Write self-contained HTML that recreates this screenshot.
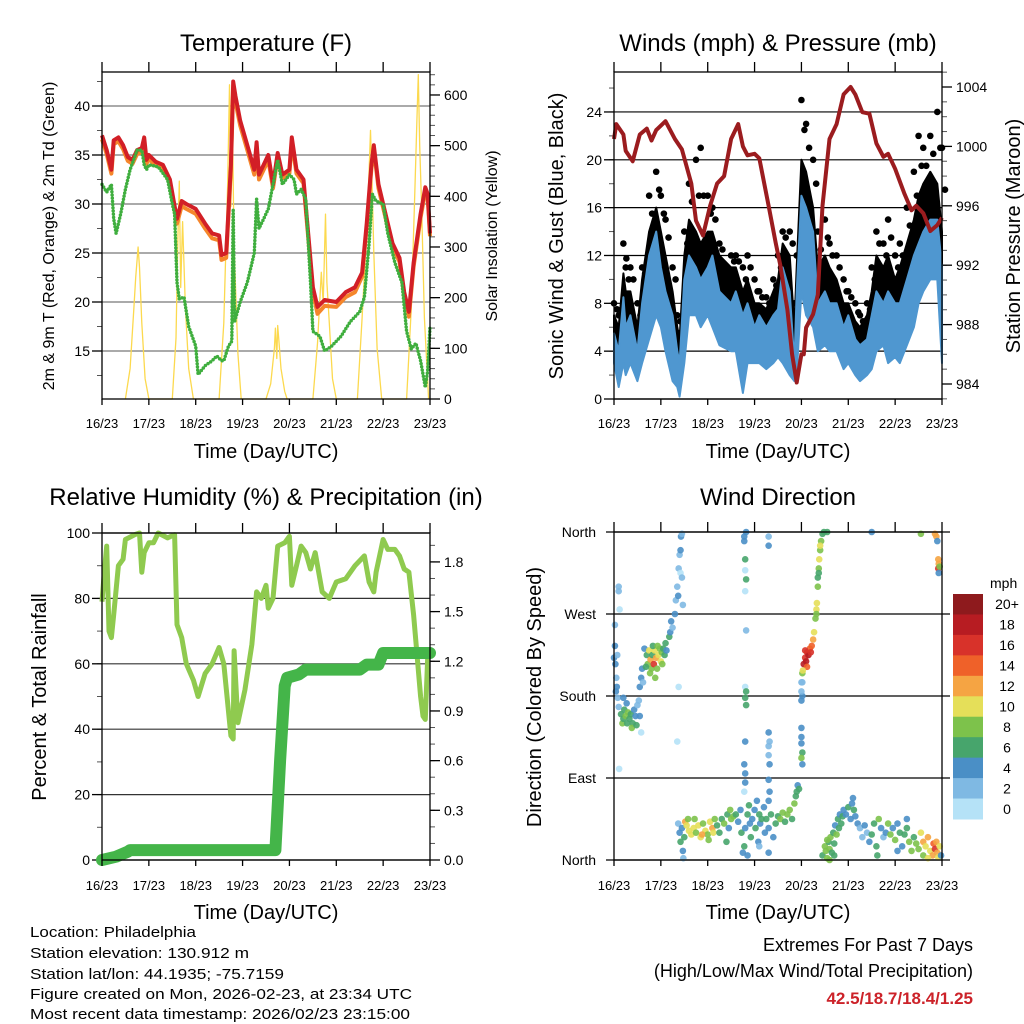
<!DOCTYPE html>
<html><head><meta charset="utf-8">
<style>
html,body{margin:0;padding:0;background:#fff;}
svg{display:block;font-family:"Liberation Sans",Arial,sans-serif;}
</style></head>
<body>
<svg id="fig" width="1024" height="1024" viewBox="0 0 1024 1024" xmlns="http://www.w3.org/2000/svg">
<rect width="1024" height="1024" fill="#fff"/>
<text x="266" y="51" font-size="24" text-anchor="middle">Temperature (F)</text>
<text x="778" y="51" font-size="24" text-anchor="middle">Winds (mph) &amp; Pressure (mb)</text>
<text x="266" y="505" font-size="24" text-anchor="middle">Relative Humidity (%) &amp; Precipitation (in)</text>
<text x="778" y="505" font-size="24" text-anchor="middle">Wind Direction</text>

<text x="266" y="458" font-size="20" text-anchor="middle">Time (Day/UTC)</text>
<text x="778" y="458" font-size="20" text-anchor="middle">Time (Day/UTC)</text>
<text x="266" y="919" font-size="20" text-anchor="middle">Time (Day/UTC)</text>
<text x="778" y="919" font-size="20" text-anchor="middle">Time (Day/UTC)</text>

<text transform="translate(54,236) rotate(-90)" font-size="16" text-anchor="middle">2m &amp; 9m T (Red, Orange) &amp; 2m Td (Green)</text>
<text transform="translate(497,236) rotate(-90)" font-size="16" text-anchor="middle">Solar Insolation (Yellow)</text>
<text transform="translate(563,236) rotate(-90)" font-size="20" text-anchor="middle">Sonic Wind &amp; Gust (Blue, Black)</text>
<text transform="translate(1020,236) rotate(-90)" font-size="20" text-anchor="middle">Station Pressure (Maroon)</text>
<text transform="translate(46,697) rotate(-90)" font-size="20" text-anchor="middle">Percent &amp; Total Rainfall</text>
<text transform="translate(541,697) rotate(-90)" font-size="20" text-anchor="middle">Direction (Colored By Speed)</text>

<g font-size="15">
<text x="30" y="937" textLength="166" lengthAdjust="spacingAndGlyphs">Location: Philadelphia</text>
<text x="30" y="958" textLength="219" lengthAdjust="spacingAndGlyphs">Station elevation: 130.912 m</text>
<text x="30" y="979" textLength="254" lengthAdjust="spacingAndGlyphs">Station lat/lon: 44.1935; -75.7159</text>
<text x="30" y="999" textLength="382" lengthAdjust="spacingAndGlyphs">Figure created on Mon, 2026-02-23, at 23:34 UTC</text>
<text x="30" y="1019" textLength="380" lengthAdjust="spacingAndGlyphs">Most recent data timestamp: 2026/02/23 23:15:00</text>
</g>
<text x="973" y="951" font-size="18" text-anchor="end">Extremes For Past 7 Days</text>
<text x="973" y="977" font-size="18" text-anchor="end">(High/Low/Max Wind/Total Precipitation)</text>
<text x="973" y="1004" font-size="17" font-weight="bold" fill="#cc2229" text-anchor="end">42.5/18.7/18.4/1.25</text>
<g id="plots"></g>
</svg>
<script>
// ---- shared axis categories ----
const dayLabels = ["16/23","17/23","18/23","19/23","20/23","21/23","22/23","23/23"];
// ---- temperature ----
const tempT = [0,0.1,0.2,0.25,0.35,0.45,0.55,0.65,0.75,0.85,0.9,0.95,1.0,1.15,1.3,1.45,1.55,1.6,1.7,1.8,2.0,2.2,2.35,2.5,2.55,2.65,2.75,2.8,2.85,2.95,3.1,3.25,3.3,3.35,3.45,3.55,3.65,3.75,3.85,4.0,4.05,4.15,4.3,4.4,4.5,4.6,4.75,5.0,5.2,5.4,5.55,5.65,5.75,5.8,5.9,6.05,6.2,6.35,6.45,6.55,6.65,6.8,6.9,6.95,7.0];
const temp2m = [37,35.5,33.5,36.5,36.8,36,34.8,34.5,35.5,35.7,36.8,34.5,35,34.3,34,32.5,29.8,28.5,30.3,30,29.5,28,27,26.8,24.8,25,34,42.5,41,38.5,36,33.5,36.3,33,34,35,32,35.2,33,33.5,36.8,33.5,32.5,27,21.5,19.5,20.2,20,21,21.5,23,28,34,36,32,29,26,24.5,21,19,24,29,31.7,31,27];
const temp9m = [36.6,35.1,33.1,36.1,36.4,35.6,34.4,34.1,35.1,35.3,36.4,34.1,34.6,33.9,33.6,32.1,29.3,28,29.8,29.5,29,27.5,26.5,26.3,24.3,24.5,33.5,41.8,40.4,38,35.5,33,35.8,32.5,33.5,34.5,31.6,34.8,32.6,33.1,36.3,33.1,32.1,26.6,21,18.8,19.6,19.5,20.5,21,22.6,27.6,33.6,35.6,31.6,28.6,25.6,24.1,20.6,18.5,23.6,28.6,31.3,30.6,26.7];
const dewT = [0,0.1,0.2,0.25,0.3,0.4,0.5,0.6,0.75,0.85,0.9,0.95,1.0,1.2,1.4,1.5,1.55,1.6,1.65,1.75,1.85,2.0,2.05,2.2,2.35,2.45,2.55,2.6,2.7,2.77,2.8,2.83,2.95,3.1,3.25,3.3,3.35,3.45,3.55,3.65,3.75,3.85,4.0,4.1,4.15,4.25,4.35,4.45,4.5,4.65,4.75,4.9,5.1,5.3,5.5,5.6,5.7,5.77,5.85,6.0,6.1,6.25,6.4,6.5,6.6,6.7,6.8,6.9,6.95,7.0];
const dewVal = [32,31.2,32,28.5,27,29,31.5,33.5,35.5,35.5,34,33.5,34,33.8,32.5,30,29,22,20.3,20.5,17.5,15.5,12.6,13.5,14,14.5,14,14,15.5,16,29.5,18,20,22,25,30.5,27.5,28.5,29.5,32,34.5,32,33,32.5,31,31.5,30.5,22,17,16.5,15,15.5,16.5,18,19,20.5,26,31,30.3,30,27,24,22,17,15.2,15.8,14,11.3,13,17.5];
const solarT = [0.5,0.6,0.68,0.72,0.77,0.8,0.85,0.92,1.0, 1.5,1.58,1.62,1.65,1.68,1.72,1.78,1.85,1.95, 2.5,2.6,2.68,2.72,2.75,2.78,2.82,2.9,2.97, 3.5,3.6,3.68,3.7,3.73,3.75,3.78,3.82,3.9,3.95, 4.5,4.6,4.68,4.72,4.77,4.8,4.85,4.92,5.0, 5.45,5.55,5.63,5.7,5.73,5.77,5.8,5.87,5.97, 6.5,6.6,6.68,6.72,6.75,6.78,6.82,6.88,6.97];
const solarVal = [0,60,180,240,300,260,150,40,0, 0,120,320,430,220,350,180,60,0, 0,150,420,620,380,560,300,90,0, 0,30,100,140,80,145,110,60,15,0, 0,110,250,190,365,230,150,40,0, 0,160,300,450,530,400,290,100,0, 0,180,420,550,640,500,380,160,0];
// ---- wind & pressure ----
const windT = [0,0.1,0.2,0.25,0.35,0.5,0.6,0.75,0.9,1.0,1.1,1.25,1.35,1.4,1.5,1.6,1.75,1.85,2.0,2.1,2.25,2.5,2.6,2.75,2.85,3.0,3.1,3.25,3.4,3.5,3.6,3.75,3.85,3.9,4.0,4.1,4.25,4.35,4.5,4.6,4.75,4.9,5.0,5.15,5.25,5.4,5.5,5.6,5.75,5.85,6.0,6.1,6.25,6.4,6.5,6.6,6.75,6.9,7.0];
const windHi = [5.5,4,8.5,6,7,4,8,12,14,11,9,7,4,3,10,12,11,10,11,12,9,8,9,7,8,6,7,6,7,7.5,11,9,3,9,17,16,14,8,9,8,8,6,7,5,4.5,5,7,9,8,9,8,8,10,12,13,14,15,15,11];
const windLo = [3,1,3,2,3,1.5,3,5,7,6,4,1.5,1,0.2,3,7,7,6,7,6,4.5,4,4,0.5,3,3,3,2.5,3,3.5,3,2,1.5,2,9,7,6,4,4.5,4,4,2.5,3,2,1.5,2,2.5,4,4.5,3,3.5,3,4.5,6,8,9,10,10,3];
const gustMid = [7,6,10.5,9,9,6,10,14,16,14,12,9,6,5,12,15,14,13,14,14,12,11,11,9,10,8,8,7.5,9,10,13,12,6,11,20,19,16,11,12,11,10,8,8,6.5,6,7,9,12,11,12,10,11,13,15,17,18,19,18,14];
const gustHi = [8,7,13,11,11,8,11,17,19,17,15,11,7,5.5,14,18,20,21,17,16,13,12,12,11,12,10,9,8.5,10,12,14,14,8,12,25,23,20,14,15,13,12,10,9,8,7,8,11,14,13,15,12,13,16,19,22,21,22,24,21];
const presT = [0,0.05,0.2,0.25,0.4,0.55,0.7,0.8,0.9,1.1,1.3,1.45,1.65,1.75,1.9,2.05,2.2,2.35,2.5,2.65,2.75,2.85,3.0,3.1,3.3,3.45,3.55,3.7,3.8,3.9,4.0,4.05,4.1,4.25,4.35,4.45,4.6,4.75,4.9,5.05,5.15,5.3,5.45,5.6,5.75,5.85,6.0,6.2,6.35,6.45,6.6,6.75,6.9,7.0];
const presVal = [1000.5,1001.5,1000.8,999.7,999,1000.8,1001.2,1000.4,1001.1,1001.7,1000.5,999.8,997.5,995,994,996,997.5,998,1000.5,1001.5,1000,999.4,999.5,999.2,996,993.5,992,989,986,984.1,986,986,987.8,988.7,990,996,1000.5,1001.5,1003.5,1004,1003.5,1002.3,1002.2,1000.2,999.3,999.5,998.5,996.8,995.7,996,995.5,994.3,994.7,995.2];
// ---- humidity & precipitation ----
const rhT = [0,0.05,0.1,0.15,0.2,0.25,0.35,0.45,0.5,0.7,0.8,0.85,0.9,1.0,1.1,1.2,1.4,1.55,1.6,1.7,1.8,1.95,2.05,2.2,2.35,2.5,2.6,2.75,2.8,2.82,2.9,3.05,3.2,3.3,3.4,3.5,3.55,3.65,3.75,3.9,4.0,4.05,4.15,4.25,4.35,4.45,4.55,4.7,4.85,5.0,5.2,5.4,5.6,5.7,5.8,5.85,6.0,6.1,6.25,6.35,6.45,6.55,6.65,6.8,6.85,6.9,6.95,7.0];
const rhVal = [79,88,96,70,68,75,90,92,98,99.5,100,88,94,97,97,100,98.5,99.5,72,68,60,55,50,57,60,65,60,38,37,64,42,52,66,82,80,84,77,80,96,97,99,84,90,96,94,89,94,82,80,85,86,90,93,85,82,88,98,95,95,93,89,88,75,50,44,43,62,63];
const precipT = [0,0.3,0.55,0.6,3.7,3.8,3.9,3.95,4.2,4.35,5.5,5.65,5.9,6.0,7.0];
const precipVal = [0,0.02,0.05,0.06,0.06,0.6,1.05,1.1,1.12,1.15,1.15,1.18,1.18,1.25,1.25];
// ---- wind direction (time in days, degrees, speed mph) ----
const dirT = [0.0,0.02,0.03,0.05,0.06,0.08,0.1,0.02,0.1,0.1,0.04,0.07,0.11,0.12,
0.15,0.18,0.2,0.22,0.25,0.28,0.3,0.33,0.36,0.4,0.43,0.46,0.5,0.53,0.55,0.58,0.2,0.27,0.38,0.48,0.55,0.58,0.6,0.62,
0.65,0.7,0.72,0.75,0.78,0.8,0.82,0.85,0.87,0.9,0.92,0.95,0.98,1.0,1.02,1.05,1.08,1.1,1.12,0.68,0.77,0.88,0.83,0.93,1.03,
1.18,1.2,1.22,1.25,1.3,1.32,1.35,1.37,1.38,1.4,1.42,1.43,1.45,1.42,1.45,1.47,1.38,1.35,
1.37,1.4,1.42,1.45,1.47,1.48,1.5,1.52,1.55,1.58,
1.6,1.65,1.7,1.75,1.8,1.85,1.9,1.95,2.0,2.05,2.1,2.12,2.15,2.2,2.25,2.3,2.35,2.4,2.42,2.45,2.48,2.5,2.55,1.72,1.88,2.02,
2.6,2.65,2.7,2.72,2.75,2.78,2.8,2.85,2.88,2.9,2.92,2.95,3.0,3.02,3.05,3.08,3.1,3.12,3.15,3.2,3.22,3.25,3.3,3.35,3.4,3.45,3.5,3.55,3.6,3.65,3.7,3.75,3.8,3.85,3.9,3.92,3.88,3.95,2.85,3.3,3.1,
2.78,2.78,2.8,2.82,2.8,2.82,2.8,2.82,2.8,2.82,2.8,2.82,2.8,2.78,2.8,2.78,2.8,
3.3,3.3,3.3,3.32,3.3,3.3,3.32,3.3,3.32,3.3,
4.0,4.02,4.0,4.02,4.0,4.0,4.0,4.02,4.0,4.02,4.0,4.02,
4.05,4.08,4.1,4.12,4.15,4.18,4.2,4.22,4.25,4.12,4.08,4.03,4.27,
4.3,4.32,4.33,4.35,4.37,4.38,4.4,4.42,4.45,4.48,4.55,4.35,4.4,4.32,4.37,
4.45,4.5,4.52,4.55,4.58,4.6,4.62,4.65,4.68,4.7,4.72,4.75,4.78,4.8,4.82,4.85,4.88,4.9,4.95,5.0,5.05,5.08,5.1,5.12,5.15,5.2,5.25,5.3,5.35,5.4,5.45,5.5,4.6,4.7,4.55,
5.55,5.6,5.62,5.65,5.7,5.75,5.8,5.85,5.9,5.95,6.0,6.05,6.1,6.15,6.2,6.25,6.3,6.35,6.4,6.45,6.5,6.25,6.05,5.5,
6.55,6.6,6.65,6.7,6.75,6.8,6.82,6.85,6.88,6.9,6.92,6.95,6.98,6.6,6.7,6.55,
6.85,6.88,6.9,6.92,6.93,6.92,6.95,6.93];
const dirV = [222,235,215,200,190,178,168,258,300,295,185,225,100,275,
160,150,155,165,158,150,162,155,160,150,165,158,170,175,158,140,178,172,145,148,190,200,210,195,
232,225,215,230,220,210,225,215,230,222,210,225,232,218,228,232,225,238,230,212,205,200,235,235,215,
245,250,262,255,270,285,300,290,320,335,340,355,358,315,310,280,190,130,
40,30,20,35,10,2,25,42,38,45,
32,28,35,30,38,25,40,32,28,42,35,30,45,38,30,45,40,20,50,35,55,45,48,45,28,22,
50,42,55,30,8,15,35,50,60,40,25,45,55,35,65,20,50,40,45,58,30,45,35,50,25,40,48,45,52,42,50,55,45,62,75,82,70,78,5,8,15,
355,350,330,360,318,308,295,252,190,185,178,170,130,105,95,75,85,
355,345,140,130,125,115,105,88,75,65,
175,180,185,195,145,135,128,118,112,105,195,205,
215,222,218,228,225,232,228,235,242,212,230,208,250,
265,275,282,300,320,330,340,350,358,360,360,310,345,270,315,
5,15,10,2,20,12,25,8,30,18,38,28,45,35,50,40,48,55,50,58,45,62,68,55,48,40,35,25,38,30,20,28,0,5,22,
40,15,5,45,35,25,30,40,28,35,22,40,30,15,28,35,20,10,25,18,12,45,10,360,
30,20,15,25,10,5,18,12,20,8,3,15,5,5,2,358,
358,355,350,330,325,320,322,315];
const dirS = [4,4,4,2,4,2,2,2,2,2,4,2,0,0,
6,8,6,6,8,6,8,6,6,6,4,4,2,2,4,0,4,4,8,6,4,4,4,2,
4,6,8,10,12,8,6,16,10,12,8,10,8,10,8,6,6,6,4,6,8,8,6,8,8,
6,4,4,2,4,2,2,4,2,2,4,4,2,0,2,2,0,0,
2,4,6,4,4,2,6,12,10,8,
10,10,10,8,10,10,8,10,8,10,12,10,8,6,6,6,8,6,6,4,8,8,8,8,12,8,
6,4,4,6,4,6,4,6,6,4,6,4,4,6,4,4,6,4,6,4,4,6,4,6,4,6,6,8,8,6,8,8,6,8,6,4,6,6,4,4,2,
4,4,6,4,0,6,0,2,0,6,6,6,4,4,4,0,4,
2,4,4,2,2,2,4,4,4,4,
4,4,2,2,4,4,4,6,8,4,2,8,
18,16,18,16,18,14,16,14,12,14,16,10,10,
8,10,10,8,8,10,8,8,6,6,6,6,10,8,6,
6,8,8,8,6,8,8,6,6,6,4,8,6,6,4,6,6,4,4,6,4,4,4,6,4,4,2,2,4,2,4,6,8,6,8,
6,6,6,8,4,2,4,8,8,4,8,4,6,4,6,6,8,8,6,8,8,4,4,4,
10,12,10,12,10,12,14,16,12,12,10,10,4,8,10,8,
12,12,4,12,12,16,8,4];
const speedLabels = ["0","2","4","6","8","10","12","14","16","18","20+"];
const speedColors = ["#b5e2f7","#7fb9e3","#4a8fc6","#47a56c","#7dc24b","#e5df59","#f5a443","#ef6129","#d8322a","#b71c22","#8e1a1d"];

const NS="http://www.w3.org/2000/svg";
const root=document.getElementById('plots');
function mk(tag,attrs,parent){const e=document.createElementNS(NS,tag);for(const k in attrs)e.setAttribute(k,attrs[k]);(parent||root).appendChild(e);return e;}
function txt(x,y,s,size,anchor,parent){const t=mk('text',{x:x,y:y,'font-size':size,'text-anchor':anchor},parent);t.textContent=s;return t;}

const X0L=102,X1L=430,X0R=614,X1R=942;
function xs(x0,x1){return d=>x0+d/7*(x1-x0);}
const xL=xs(X0L,X1L), xR=xs(X0R,X1R);
const tempY=v=>351-(v-15)*9.8;
const solarY=v=>399-v*0.5067;
const windY=v=>399-v*11.96;
const presY=p=>384-(p-984)*14.85;
const rhY=v=>860-v*3.27;
const prY=v=>860-v*165.6;
const dirY=d=>860-d*(328/360);

function frame(x0,x1,y0,y1,xf,name,bottomLabelY){
  const g=mk('g',{});
  
  
  mk('rect',{x:x0,y:y0,width:x1-x0,height:y1-y0,fill:'none',stroke:'#000','stroke-width':1.3},g);
  for(let i=0;i<dayLabels.length;i++){
    const x=xf(i);
    mk('line',{x1:x,x2:x,y1:y0-10,y2:y0,stroke:'#000','stroke-width':1.3},g);
    mk('line',{x1:x,x2:x,y1:y1,y2:y1+6,stroke:'#000','stroke-width':1.3},g);
    const t=txt(x,bottomLabelY,dayLabels[i],13,'middle',g);
    
    
  }
  return g;
}
function yAxis(side,x,vals,yf,fmt,minors,grid,x0,x1,name,gridColor){
  const g=mk('g',{});
  
  
  const dir=side==='left'?-1:1;
  minors.forEach(v=>{const y=yf(v);mk('line',{x1:x,x2:x+dir*5,y1:y,y2:y,stroke:'#555','stroke-width':1},g);});
  vals.forEach(v=>{
    const y=yf(v);
    if(grid) mk('line',{x1:x0,x2:x1,y1:y,y2:y,stroke:gridColor||'#000','stroke-width':1.2},g);
    mk('line',{x1:x,x2:x+dir*10,y1:y,y2:y,stroke:'#000','stroke-width':1.3},g);
    const t=txt(side==='left'?x-12:x+14,y+5,fmt(v),14,side==='left'?'end':'start',g);
    
    
  });
}
function range(a,b,s){const r=[];for(let v=a;v<=b+1e-9;v+=s)r.push(+v.toFixed(4));return r;}
function pathD(ts,vs,xf,yf){return ts.map((t,i)=>(i?'L':'M')+xf(t).toFixed(1)+','+yf(vs[i]).toFixed(1)).join('');}
function band(ts,hi,lo,xf,yf){return ts.map((t,i)=>xf(t).toFixed(1)+','+yf(hi[i]).toFixed(1)).concat(ts.map((t,i)=>i).reverse().map(i=>xf(ts[i]).toFixed(1)+','+yf(lo[i]).toFixed(1))).join(' ');}

// ===== Temperature panel =====
yAxis('left',X0L,range(15,40,5),tempY,v=>String(v),range(12.5,42.5,2.5),true,X0L,X1L,'temp-y-axis','#777');
yAxis('right',X1L,range(0,600,100),solarY,v=>String(v),range(0,640,20),false,0,0,'solar-y-axis');
let p;
p=mk('path',{d:pathD(solarT,solarVal,xL,solarY),fill:'none',stroke:'#fcd94e','stroke-width':1.3,'stroke-linejoin':'round'});


p=mk('path',{d:pathD(tempT,temp9m,xL,tempY),fill:'none',stroke:'#f5862b','stroke-width':4,'stroke-linejoin':'round'});


p=mk('path',{d:pathD(tempT,temp2m,xL,tempY),fill:'none',stroke:'#d21f26','stroke-width':4,'stroke-linejoin':'round'});


p=mk('path',{d:pathD(dewT,dewVal,xL,tempY),fill:'none',stroke:'#3fae3e','stroke-width':3.5,'stroke-dasharray':'0 3.2','stroke-linecap':'round','stroke-linejoin':'round'});


frame(X0L,X1L,72,399,xL,'temperature',428);

// ===== Wind panel =====
yAxis('left',X0R,range(0,24,4),windY,v=>String(v),range(0,26,2),true,X0R,X1R,'wind-y-axis','#000');
yAxis('right',X1R,range(984,1004,4),presY,v=>String(v),range(983,1005,1),false,0,0,'pressure-y-axis');
p=mk('polygon',{points:band(windT,gustMid,windHi,xR,windY),fill:'#000',stroke:'#000','stroke-width':2,'stroke-linejoin':'round'});


windT.forEach((t,i)=>{
  const c=mk('circle',{cx:xR(t),cy:windY(gustHi[i]),r:3.3,fill:'#000'});
  
  
  const c2=mk('circle',{cx:xR(t)+3,cy:windY((gustHi[i]+gustMid[i])/2),r:3.3,fill:'#000'});
  
  
});
p=mk('polygon',{points:band(windT,windHi,windLo,xR,windY),fill:'#4f97d0',stroke:'#4f97d0','stroke-width':2,'stroke-linejoin':'round'});


p=mk('path',{d:pathD(presT,presVal,xR,presY),fill:'none',stroke:'#9b1c1f','stroke-width':4,'stroke-linejoin':'round'});


frame(X0R,X1R,72,399,xR,'winds',428);

// ===== Humidity panel =====
yAxis('left',X0L,range(0,100,20),rhY,v=>String(v),range(0,100,10),true,X0L,X1L,'rh-y-axis','#333');
yAxis('right',X1L,range(0,1.8,0.3),prY,v=>v.toFixed(1),range(0,1.9,0.1),false,0,0,'precip-y-axis');
p=mk('path',{d:pathD(rhT,rhVal,xL,rhY),fill:'none',stroke:'#8fca4f','stroke-width':5,'stroke-linejoin':'round'});


p=mk('path',{d:pathD(precipT,precipVal,xL,prY),fill:'none',stroke:'#44b549','stroke-width':12,'stroke-linejoin':'round','stroke-linecap':'round'});


frame(X0L,X1L,533,860,xL,'humidity',890);

// ===== Direction panel =====
const dirTicks=[0,90,180,270,360], dirNames=["North","East","South","West","North"];
dirTicks.forEach((d,i)=>{
  const y=dirY(d);
  const l=mk('line',{x1:606,x2:950,y1:y,y2:y,stroke:'#000','stroke-width':1.2});
  
  
  const t=txt(596,y+5,dirNames[i],14,'end');
  
  
});
dirT.forEach((t,i)=>{
  const idx=Math.min(10,Math.round(dirS[i]/2));
  const c=mk('circle',{cx:xR(t),cy:dirY(dirV[i]),r:3.3,fill:speedColors[idx],'fill-opacity':0.9});
  
  
});
frame(X0R,X1R,532,860,xR,'direction',890);
// colorbar
const cb=mk('g',{});


const cbTop=594, cbH=225/11;
const mt=txt(990,588,'mph',14,'start',cb);


for(let k=10;k>=0;k--){
  const y=cbTop+(10-k)*cbH;
  const r=mk('rect',{x:953,y:y,width:30,height:cbH+0.5,fill:speedColors[k]},cb);
  
  
  const t=txt(1007,y+cbH/2+5,speedLabels[k],14,'middle',cb);
  
  
}
</script>
</body></html>
